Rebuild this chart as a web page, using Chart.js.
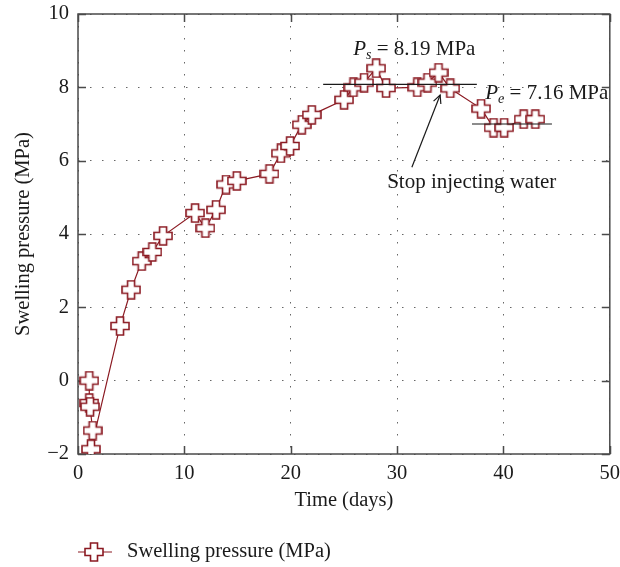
<!DOCTYPE html>
<html><head><meta charset="utf-8">
<script src="https://cdn.jsdelivr.net/npm/chart.js@4/dist/chart.umd.min.js"></script>
<style>html,body{margin:0;padding:0;background:#fff}#wrap{width:620px;height:567px}</style>
</head><body><div id="wrap"><canvas id="c" width="620" height="567"></canvas></div>
<script>
// ---- data ----
const timeDays = [1.06,1.06,1.13,1.38,1.22,3.95,4.99,5.99,6.99,8.0,11.01,11.98,12.98,13.92,14.93,18.0,19.07,19.94,21.04,21.98,25.02,25.9,26.9,28.03,28.97,31.9,32.86,33.9,35.0,37.9,39.07,40.07,41.9,43.0];
const pressureMPa = [0,-0.61,-0.71,-1.36,-1.87,1.49,2.48,3.26,3.51,3.95,4.57,4.16,4.66,5.35,5.45,5.64,6.2,6.4,6.98,7.25,7.66,8.0,8.13,8.52,7.98,8.0,8.13,8.4,7.97,7.42,6.9,6.9,7.13,7.13];
const xTicks = [0,10,20,30,40,50];
const yTicks = [-2,0,2,4,6,8,10];
const psLineX = [23.05, 37.5];
const psLineY = [8.08, 8.08];
const peLineX = [37.04, 44.56];
const peLineY = [7.0, 7.0];
const seriesLabel = 'Swelling pressure (MPa)';
const xTitle = 'Time (days)';
const yTitle = 'Swelling pressure (MPa)';
const psLabel = ['P', 's', ' = 8.19 MPa'];
const peLabel = ['P', 'e', ' = 7.16 MPa'];
const stopLabel = 'Stop injecting water';
const psLabelAt = [25.87, 8.88];
const peLabelAt = [38.29, 7.68];
const stopLabelAt = [29.07, 5.26];
const arrowFrom = [31.39, 5.82];
const arrowTo = [34.05, 7.79];

const RED = '#8b1a22';
const FONT = "'Liberation Serif', 'DejaVu Serif', serif";
const TXT = '#1a1a1a';
const FS = 20.5;
const AFS = 21;

function makePlus(size, arm) {
  const c = document.createElement('canvas');
  c.width = size + 2; c.height = size + 2;
  const g = c.getContext('2d');
  const o = 1, s = size, a = (s - arm) / 2;
  g.beginPath();
  g.moveTo(o + a, o); g.lineTo(o + a + arm, o); g.lineTo(o + a + arm, o + a);
  g.lineTo(o + s, o + a); g.lineTo(o + s, o + a + arm); g.lineTo(o + a + arm, o + a + arm);
  g.lineTo(o + a + arm, o + s); g.lineTo(o + a, o + s); g.lineTo(o + a, o + a + arm);
  g.lineTo(o, o + a + arm); g.lineTo(o, o + a); g.lineTo(o + a, o + a); g.closePath();
  g.fillStyle = '#fff'; g.fill();
  g.lineWidth = 1.6; g.strokeStyle = RED; g.stroke();
  return c;
}
const plusImg = makePlus(18, 7);

const framePlugin = {
  id: 'frame',
  beforeDatasetsDraw(chart) {
    const {ctx, chartArea: a, scales: {x, y}} = chart;
    ctx.save();
    ctx.strokeStyle = '#4a4a4a'; ctx.lineWidth = 1.5;
    ctx.strokeRect(a.left, a.top, a.right - a.left, a.bottom - a.top);
    const L = 8;
    ctx.beginPath();
    xTicks.forEach(v => {
      const px = Math.round(x.getPixelForValue(v)) + 0.5;
      ctx.moveTo(px, a.bottom); ctx.lineTo(px, a.bottom - L);
      ctx.moveTo(px, a.top); ctx.lineTo(px, a.top + L);
    });
    yTicks.forEach(v => {
      const py = Math.round(y.getPixelForValue(v)) + 0.5;
      ctx.moveTo(a.left, py); ctx.lineTo(a.left + L, py);
      ctx.moveTo(a.right, py); ctx.lineTo(a.right - L, py);
    });
    ctx.stroke();
    ctx.restore();
  },
  afterDraw(chart) {
    const {ctx, scales: {x, y}} = chart;
    ctx.save();
    ctx.fillStyle = TXT;
    ctx.textBaseline = 'alphabetic';
    function sub(parts, at) {
      let px = x.getPixelForValue(at[0]);
      const py = y.getPixelForValue(at[1]);
      ctx.font = 'italic ' + AFS + 'px ' + FONT; ctx.fillText(parts[0], px, py); px += ctx.measureText(parts[0]).width;
      ctx.font = 'italic 14px ' + FONT; ctx.fillText(parts[1], px, py + 4); px += ctx.measureText(parts[1]).width;
      ctx.font = AFS + 'px ' + FONT; ctx.fillText(parts[2], px, py);
    }
    sub(psLabel, psLabelAt);
    sub(peLabel, peLabelAt);
    ctx.font = AFS + 'px ' + FONT;
    ctx.fillText(stopLabel, x.getPixelForValue(stopLabelAt[0]), y.getPixelForValue(stopLabelAt[1]));
    // arrow
    const x0 = x.getPixelForValue(arrowFrom[0]), y0 = y.getPixelForValue(arrowFrom[1]);
    const x1 = x.getPixelForValue(arrowTo[0]), y1 = y.getPixelForValue(arrowTo[1]);
    ctx.strokeStyle = '#1a1a1a'; ctx.lineWidth = 1.2;
    ctx.beginPath(); ctx.moveTo(x0, y0); ctx.lineTo(x1, y1); ctx.stroke();
    const ang = Math.atan2(y1 - y0, x1 - x0), h = 9, sp = 0.45;
    ctx.beginPath();
    ctx.moveTo(x1 - h * Math.cos(ang - sp), y1 - h * Math.sin(ang - sp));
    ctx.lineTo(x1, y1);
    ctx.lineTo(x1 - h * Math.cos(ang + sp), y1 - h * Math.sin(ang + sp));
    ctx.stroke();
    // legend
    const ly = 552;
    ctx.strokeStyle = RED; ctx.lineWidth = 1.2;
    ctx.beginPath(); ctx.moveTo(78, ly); ctx.lineTo(112, ly); ctx.stroke();
    ctx.drawImage(plusImg, 94 - plusImg.width / 2, ly - plusImg.height / 2);
    ctx.fillStyle = TXT; ctx.font = FS + 'px ' + FONT; ctx.textBaseline = 'middle';
    ctx.fillText(seriesLabel, 127, ly);
    ctx.restore();
  }
};

const pts = timeDays.map((t, i) => ({x: t, y: pressureMPa[i]}));
new Chart(document.getElementById('c'), {
  type: 'line',
  data: {
    datasets: [
      {data: psLineX.map((v, i) => ({x: v, y: psLineY[i]})), borderColor: '#1a1a1a', borderWidth: 1.2, pointRadius: 0, order: 0},
      {data: peLineX.map((v, i) => ({x: v, y: peLineY[i]})), borderColor: '#1a1a1a', borderWidth: 1.2, pointRadius: 0, order: 0},
      {label: seriesLabel, data: pts, borderColor: RED, borderWidth: 1.2, pointStyle: plusImg, pointRadius: 9, order: 1, tension: 0}
    ]
  },
  options: {
    responsive: false, animation: false, devicePixelRatio: 1,
    layout: {padding: {top: 14, right: 10, bottom: 54, left: 0}},
    plugins: {legend: {display: false}, tooltip: {enabled: false}},
    scales: {
      x: {
        type: 'linear', min: 0, max: 50,
        afterBuildTicks: s => { s.ticks = xTicks.map(v => ({value: v})); },
        afterFit: s => { s.height = 59; s.paddingLeft = 0; s.paddingRight = 0; },
        grid: {color: '#666', lineWidth: 1, drawTicks: false},
        border: {display: false, dash: [1.5, 10.5]},
        ticks: {padding: 7, color: TXT, font: {family: FONT, size: FS}, maxRotation: 0},
        title: {display: true, text: xTitle, color: TXT, font: {family: FONT, size: FS}, padding: {top: 0, bottom: 0}}
      },
      y: {
        type: 'linear', min: -2, max: 10,
        afterBuildTicks: s => { s.ticks = yTicks.map(v => ({value: v})); },
        afterFit: s => { s.width = 78; s.paddingTop = 0; s.paddingBottom = 0; },
        grid: {color: '#666', lineWidth: 1, drawTicks: false},
        border: {display: false, dash: [1.5, 10.5]},
        ticks: {padding: 9, color: TXT, font: {family: FONT, size: FS}, callback: v => String(v).replace('-', '\u2212')},
        title: {display: true, text: yTitle, color: TXT, font: {family: FONT, size: FS}, padding: {top: 11, bottom: 0}}
      }
    }
  },
  plugins: [framePlugin]
});
</script>
</body></html>
